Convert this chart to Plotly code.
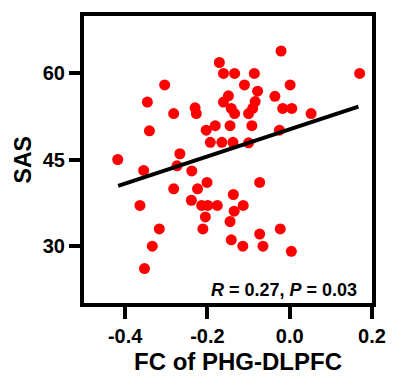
import plotly.graph_objects as go

# FC of PHG-DLPFC (x) and SAS score (y)
fc_values = [-0.418, -0.355, -0.364, -0.317, -0.334, -0.353, -0.341, -0.346, -0.304, -0.282,
             -0.267, -0.274, -0.282, -0.238, -0.230, -0.227, -0.203, -0.181, -0.193, -0.165,
             -0.138, -0.145, -0.171, -0.161, -0.134, -0.086, -0.110, -0.078, -0.149, -0.161,
             -0.084, -0.142, -0.134, -0.090, -0.100, -0.092, -0.100, -0.021, 0.170, 0.001,
             -0.036, -0.017, 0.005, 0.052, -0.025, -0.201, -0.224, -0.239, -0.214, -0.199,
             -0.176, -0.137, -0.135, -0.113, -0.205, -0.211, -0.145, -0.142, -0.073, -0.023,
             -0.073, -0.114, -0.065, 0.004]
sas_values = [45.0, 43.1, 37.0, 32.9, 29.9, 26.0, 50.0, 55.0, 58.0, 53.0,
              46.0, 43.9, 39.9, 43.0, 54.0, 53.0, 50.1, 50.9, 48.0, 48.0,
              48.0, 50.9, 61.9, 60.0, 60.0, 60.0, 58.0, 56.9, 56.1, 55.0,
              55.1, 53.9, 53.0, 53.9, 53.0, 50.9, 47.9, 63.9, 60.0, 58.0,
              56.0, 53.9, 53.9, 53.0, 50.1, 41.0, 39.9, 37.9, 37.0, 37.0,
              37.0, 38.9, 36.0, 37.0, 35.0, 32.9, 34.2, 31.0, 41.0, 32.9,
              32.0, 29.9, 29.9, 29.0]

# regression line end points
fit_x = [-0.417, 0.167]
fit_y = [40.4, 54.2]

x_ticks = [-0.4, -0.2, 0.0, 0.2]
x_tick_labels = ["-0.4", "-0.2", "0.0", "0.2"]
y_ticks = [30, 45, 60]
y_tick_labels = ["30", "45", "60"]

x_title = "FC of PHG-DLPFC"
y_title = "SAS"
stat_text = "<b><i>R</i> = 0.27, <i>P</i> = 0.03</b>"

FONT = "Liberation Sans, Arial, sans-serif"

fig = go.Figure()
fig.add_trace(go.Scatter(x=fc_values, y=sas_values, mode="markers",
                         marker=dict(color="#FF0000", size=11, line=dict(width=0)),
                         showlegend=False, hoverinfo="skip"))
fig.add_trace(go.Scatter(x=fit_x, y=fit_y, mode="lines",
                         line=dict(color="black", width=4),
                         showlegend=False, hoverinfo="skip"))

axis_common = dict(showline=True, linecolor="black", linewidth=4, mirror=True,
                   ticks="outside", tickwidth=4, tickcolor="black",
                   showgrid=False, zeroline=False, automargin=False,
                   tickfont=dict(family=FONT, size=20, color="black", weight="bold"))

fig.update_layout(
    width=397, height=371,
    margin=dict(l=76, r=33, t=8, b=76),
    plot_bgcolor="white", paper_bgcolor="white",
    xaxis=dict(range=[-0.5, 0.2], tickvals=x_ticks, ticktext=x_tick_labels,
               ticklen=12, **axis_common),
    yaxis=dict(range=[20, 70], tickvals=y_ticks, ticktext=y_tick_labels,
               ticklen=11, **axis_common),
    annotations=[
        dict(text=stat_text, xref="paper", yref="paper", x=0.955, y=0.047,
             xanchor="right", yanchor="middle", showarrow=False,
             font=dict(family=FONT, size=18, color="black")),
        dict(text="<b>" + x_title + "</b>", xref="paper", yref="paper", x=0.536, y=-0.203,
             xanchor="center", yanchor="middle", showarrow=False,
             font=dict(family=FONT, size=24, color="black")),
        dict(text="<b>" + y_title + "</b>", xref="paper", yref="paper", x=-0.212, y=0.5,
             xanchor="center", yanchor="middle", showarrow=False, textangle=-90,
             font=dict(family=FONT, size=23, color="black")),
    ],
)

fig.write_html("out.html")
